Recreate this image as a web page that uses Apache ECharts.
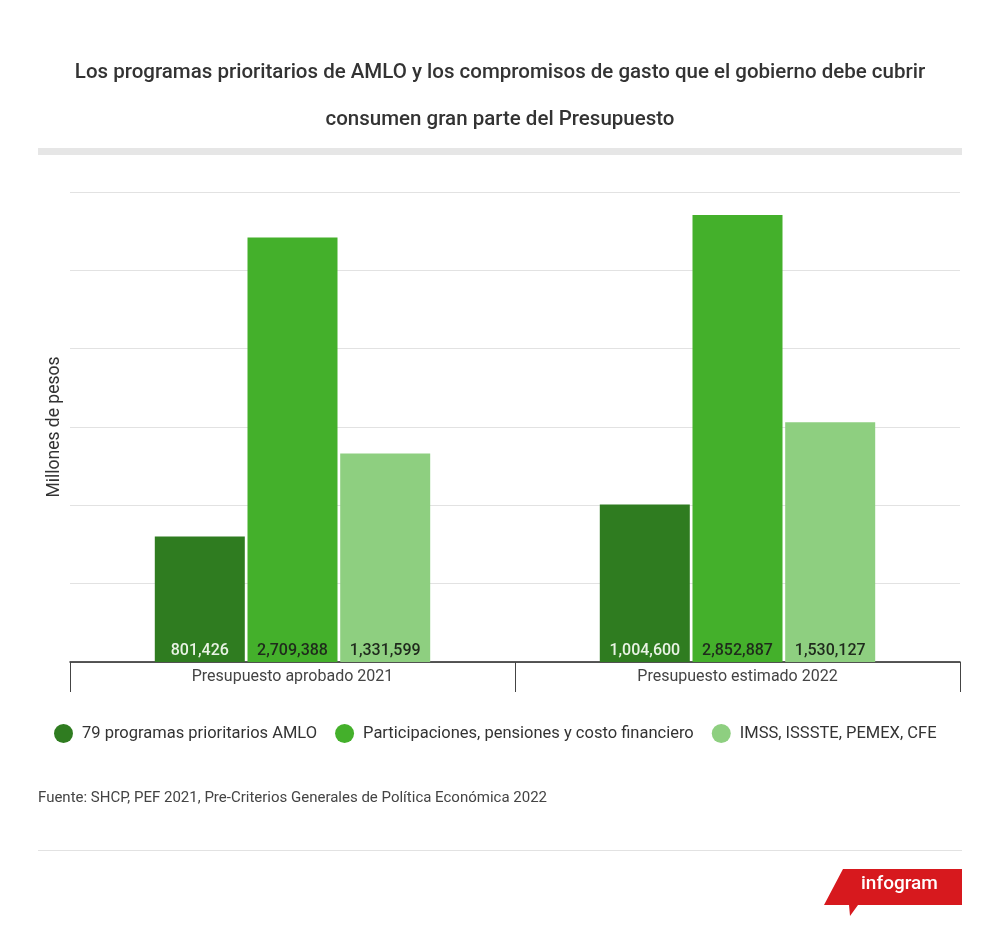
<!DOCTYPE html>
<html>
<head>
<meta charset="utf-8">
<script src="https://cdn.jsdelivr.net/npm/echarts@6/dist/echarts.min.js"></script>
<style>
html,body{margin:0;padding:0;background:#fff;}
#chart{width:1000px;height:940px;}
</style>
</head>
<body>
<div id="chart"></div>
<script>
const categories = ['Presupuesto aprobado 2021', 'Presupuesto estimado 2022'];
const seriesNames = ['79 programas prioritarios AMLO', 'Participaciones, pensiones y costo financiero', 'IMSS, ISSSTE, PEMEX, CFE'];
const programas = [801426, 1004600];
const participaciones = [2709388, 2852887];
const imss = [1331599, 1530127];
const titleLines = ['Los programas prioritarios de AMLO y los compromisos de gasto que el gobierno debe cubrir', 'consumen gran parte del Presupuesto'];
const yAxisName = 'Millones de pesos';
const sourceText = 'Fuente: SHCP, PEF 2021, Pre-Criterios Generales de Política Económica 2022';

const colors = ['#2f7c20', '#44b02b', '#8ecf80'];
const labelColors = ['#e9f3e4', '#1f2a1c', '#1f2a1c'];
const values = [programas, participaciones, imss];
const fmt = v => v.toLocaleString('en-US');
const FONT = 'Roboto, "Noto Sans", sans-serif';

const chart = echarts.init(document.getElementById('chart'), null, {renderer: 'canvas'});
chart.setOption({
  backgroundColor: '#ffffff',
  animation: false,
  textStyle: {fontFamily: FONT},
  title: [
    {text: titleLines[0], left: 'center', top: 57, textStyle: {fontSize: 20.5, fontWeight: 500, color: '#333', fontFamily: FONT}},
    {text: titleLines[1], left: 'center', top: 104, textStyle: {fontSize: 20.5, fontWeight: 500, color: '#333', fontFamily: FONT}},
    {text: sourceText, left: 33, top: 786, textStyle: {fontSize: 15, fontWeight: 400, color: '#444', fontFamily: FONT}}
  ],
  legend: {
    data: seriesNames,
    top: 719,
    left: 49,
    icon: 'circle',
    itemWidth: 19,
    itemHeight: 19,
    itemGap: 18,
    textStyle: {fontSize: 16.5, color: '#333', fontFamily: FONT, padding: [0, 0, 0, 4]}
  },
  grid: {left: 70, right: 40, top: 192, bottom: 278, containLabel: false},
  xAxis: {
    type: 'category',
    data: categories,
    axisLine: {show: true, lineStyle: {color: '#222', width: 1.5}},
    axisTick: {show: true, length: 30, alignWithLabel: false, lineStyle: {color: '#444', width: 1}},
    axisLabel: {fontSize: 16, color: '#444', margin: 7, fontFamily: FONT}
  },
  yAxis: {
    type: 'value',
    min: 0,
    max: 3000000,
    interval: 500000,
    name: yAxisName,
    nameLocation: 'middle',
    nameGap: 6,
    nameTextStyle: {fontSize: 17.5, color: '#333', fontFamily: FONT},
    axisLabel: {show: false},
    axisLine: {show: false},
    axisTick: {show: false},
    splitLine: {lineStyle: {color: '#e2e2e2', width: 1}}
  },
  series: seriesNames.map((n, i) => ({
    name: n,
    type: 'bar',
    data: values[i],
    barWidth: 90,
    barGap: '3%',
    itemStyle: {color: colors[i]},
    label: {
      show: true,
      position: 'insideBottom',
      distance: 3,
      formatter: p => fmt(p.value),
      fontSize: 16,
      fontWeight: 500,
      color: labelColors[i],
      fontFamily: FONT
    }
  })),
  graphic: [
    {type: 'rect', shape: {x: 38, y: 148, width: 924, height: 7}, style: {fill: '#e6e6e6'}, silent: true},
    {type: 'rect', shape: {x: 38, y: 850, width: 924, height: 1}, style: {fill: '#e2e2e2'}, silent: true},
    {type: 'polygon', shape: {points: [[843, 869], [962, 869], [962, 905], [858, 905], [850, 916], [849, 905], [824, 905]]}, style: {fill: '#d7191e'}, silent: true},
    {type: 'text', left: 861, top: 875, style: {text: 'infogram', fill: '#fff', font: '500 19px Roboto, sans-serif'}, silent: true}
  ]
});
</script>
</body>
</html>
